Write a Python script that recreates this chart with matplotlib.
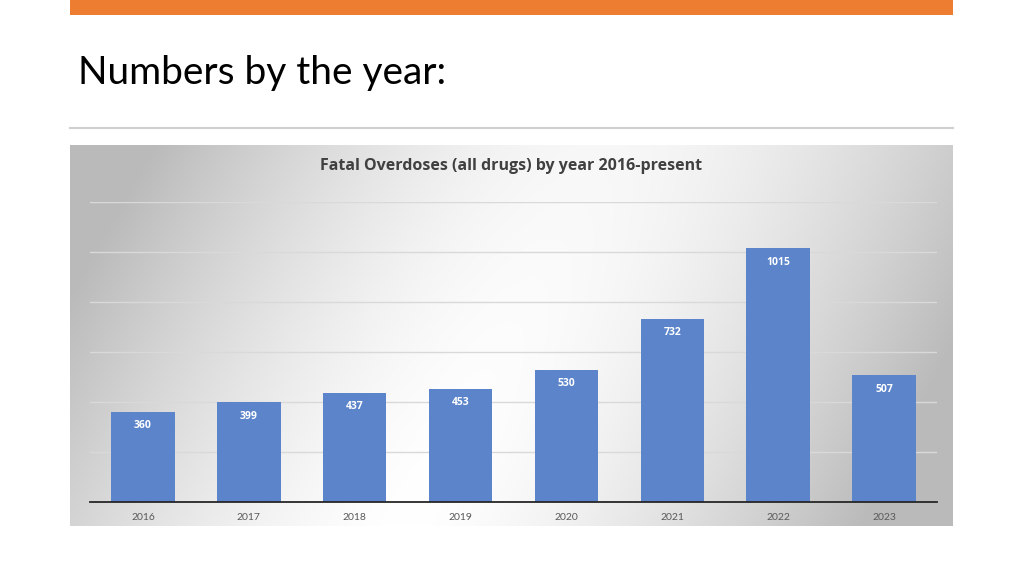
import matplotlib.pyplot as plt
import numpy as np

years = ["2016", "2017", "2018", "2019", "2020", "2021", "2022", "2023"]
deaths = [360, 399, 437, 453, 530, 732, 1015, 507]

plt.rcParams["font.family"] = ["Lato", "DejaVu Sans"]

W, H = 1024, 576
fig = plt.figure(figsize=(W / 100, H / 100), dpi=100)
fig.patch.set_facecolor("white")

def box(x0, y0, x1, y1):
    # pixel box (top-left origin) -> figure fraction rect
    return [x0 / W, 1 - y1 / H, (x1 - x0) / W, (y1 - y0) / H]

# slide decorations
fig.patches.append(plt.Rectangle((70 / W, 1 - 15 / H), 883 / W, 15 / H,
                                 transform=fig.transFigure, color="#ED7D31", lw=0))
fig.lines.append(plt.Line2D([70 / W, 953 / W], [1 - 128 / H] * 2,
                            transform=fig.transFigure, color="#d0d0d0", lw=1.5))
fig.text(78 / W, 1 - 73 / H, "Numbers by the year:", fontsize=28,
         va="center", ha="left", color="black")

# chart background: tilted white band fading to gray at the sides
bg = fig.add_axes(box(70, 145, 953, 526))
nx, ny = 400, 180
xx, yy = np.meshgrid(np.linspace(0, 1, nx), np.linspace(0, 1, ny))
xc = 0.6 - 0.22 * yy
d = np.sqrt((xx - xc) ** 2 + (0.12 * (1 - yy)) ** 2)
d = np.clip(d / 0.52, 0, 1)
shade = 1 - 0.27 * d ** 1.5
img = np.dstack([shade, shade, shade])
bg.imshow(img, aspect="auto", extent=[0, 1, 1, 0])
bg.set_axis_off()

# chart
ax = fig.add_axes(box(90, 202, 937, 502))
ax.patch.set_alpha(0)
x = np.arange(len(years))
bars = ax.bar(x, deaths, width=0.6, color="#5B84CA", zorder=3)
ax.set_ylim(0, 1200)
ax.set_xlim(-0.5, len(years) - 0.5)
ax.set_yticks(np.arange(0, 1201, 200))
ax.yaxis.grid(True, color="#d9d9d9", lw=1, zorder=0)
ax.tick_params(axis="y", left=False, labelleft=False)
ax.tick_params(axis="x", length=0, pad=8, labelsize=7.5, labelcolor="#595959")
ax.set_xticks(x)
ax.set_xticklabels(years)
for s in ["top", "right", "left"]:
    ax.spines[s].set_visible(False)
ax.spines["bottom"].set_color("#262626")
ax.spines["bottom"].set_linewidth(1.3)
ax.spines["bottom"].set_zorder(4)

for b, v in zip(bars, deaths):
    ax.annotate(str(v), (b.get_x() + b.get_width() / 2, v), xytext=(0, -10),
                textcoords="offset points", ha="center", va="center",
                color="white", fontsize=7.5, fontweight="bold", family="Open Sans",
                zorder=5)

fig.text(511 / W, 1 - 166 / H, "Fatal Overdoses (all drugs) by year 2016-present",
         fontsize=11.5, fontweight="bold", family="Open Sans", color="#404040",
         ha="center", va="center")

fig.savefig("out.png", dpi=100)
